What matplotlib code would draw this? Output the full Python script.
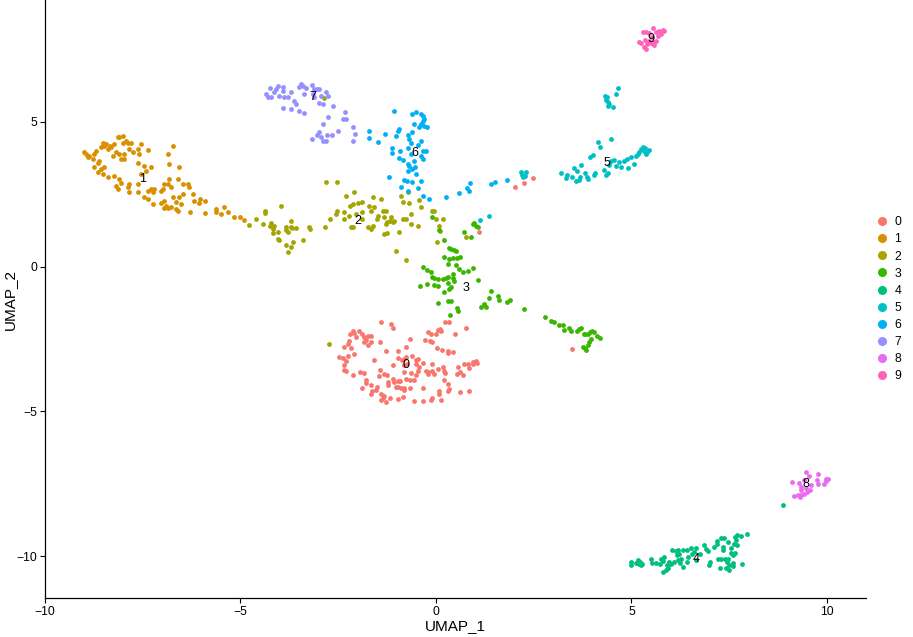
import numpy as np
import matplotlib
matplotlib.use("Agg")
import matplotlib.pyplot as plt
from matplotlib.lines import Line2D

# cluster ids and ggplot hue colours
clusters = ["0", "1", "2", "3", "4", "5", "6", "7", "8", "9"]
colors = ["#F8766D", "#D89000", "#A3A500", "#39B600", "#00BF7D",
          "#00BFC4", "#00B0F6", "#9590FF", "#E76BF3", "#FF62BC"]

# (UMAP_1, UMAP_2) per cell
cluster0 = [
    (-1.41, -1.90), (-1.15, -1.98), (-1.11, -2.11), (-2.13, -2.21), (-2.09, -2.30), (-2.19, -2.34),
    (-1.96, -2.23), (-1.88, -2.34), (-1.83, -2.44), (-1.79, -2.55), (-1.75, -2.38), (-1.65, -2.41),
    (-1.83, -2.61), (-1.75, -2.72), (-1.66, -2.61), (-2.22, -2.57), (-2.26, -2.67), (-2.36, -2.76),
    (-2.17, -2.80), (-1.43, -2.61), (-2.05, -2.44), (-2.47, -3.13), (-2.39, -3.15), (-2.26, -3.10),
    (-2.09, -3.01), (-2.30, -3.26), (-2.35, -3.41), (-2.36, -3.56), (-2.30, -3.59), (-2.11, -3.76),
    (-1.94, -3.64), (-1.83, -3.68), (-1.79, -3.93), (-1.79, -4.02), (-1.88, -4.18), (-1.65, -4.10),
    (-1.64, -4.28), (-1.66, -4.39), (-1.54, -4.25), (-1.51, -4.14), (-1.41, -4.39), (-1.36, -4.53),
    (-1.32, -4.48), (-1.17, -4.53), (-1.41, -4.62), (-1.28, -4.68), (-0.96, -4.56), (-0.85, -4.51),
    (-1.59, -3.24), (-1.42, -3.56), (-1.45, -3.79), (-1.32, -3.70), (-1.24, -3.76), (-1.22, -3.99),
    (-1.11, -3.87), (-1.22, -4.10), (-1.07, -3.99), (-1.02, -4.14), (-0.98, -3.95), (-0.91, -3.95),
    (-0.96, -4.14), (-0.90, -4.18), (-0.83, -4.25), (-0.81, -4.18), (-0.66, -4.18), (-0.77, -3.87),
    (-0.66, -3.93), (-0.55, -3.93), (-0.51, -3.76), (-0.47, -3.59), (-0.64, -3.68), (-0.81, -3.64),
    (-1.11, -3.41), (-0.98, -3.15), (-0.88, -3.24), (-0.81, -3.18), (-0.74, -3.38), (-0.60, -3.07),
    (-0.51, -3.36), (-0.45, -3.18), (-0.43, -3.47), (-0.34, -3.33), (-0.26, -3.61), (-0.21, -3.64),
    (-0.21, -3.70), (-0.11, -3.61), (-0.09, -3.36), (-0.04, -3.70), (0.04, -3.53), (0.17, -3.45),
    (0.21, -3.59), (0.23, -3.68), (0.20, -3.91), (0.30, -4.05), (0.34, -4.22), (0.30, -4.28),
    (0.08, -4.28), (0.08, -4.39), (-0.09, -4.53), (-0.13, -4.60), (-0.34, -4.18), (-0.34, -4.64),
    (-0.57, -4.65), (0.13, -4.60), (0.62, -4.33), (0.85, -4.30), (0.55, -3.70), (0.62, -3.64),
    (0.68, -3.76), (0.57, -3.47), (0.72, -3.36), (0.81, -3.36), (0.94, -3.38), (0.96, -3.30),
    (1.02, -3.26), (1.05, -3.33), (0.85, -3.49), (-1.28, -2.92), (-0.96, -2.92), (-0.77, -2.78),
    (-0.66, -2.49), (-0.77, -3.13), (-0.21, -2.26), (-0.13, -2.32), (0.00, -2.34), (0.04, -2.18),
    (0.11, -2.15), (0.13, -2.23), (-0.09, -2.61), (-0.15, -2.57), (-0.28, -2.55), (0.02, -2.80),
    (0.15, -2.87), (0.30, -2.90), (0.32, -2.99), (0.43, -2.95), (0.49, -2.32), (0.77, -2.11),
    (0.23, -1.90), (0.34, -1.93), (-0.51, -3.24), (-0.81, -3.41),
    (1.11, 1.18), (2.02, 2.74), (2.24, 2.87), (2.47, 3.06), (3.47, -2.84),
]
cluster1 = [
    (-8.99, 3.94), (-8.95, 3.88), (-8.91, 3.77), (-8.87, 3.82), (-8.78, 3.71), (-8.74, 3.88),
    (-8.69, 4.00), (-8.65, 3.59), (-8.61, 3.65), (-8.57, 4.11), (-8.52, 4.28), (-8.48, 4.17),
    (-8.44, 4.23), (-8.40, 4.05), (-8.35, 4.17), (-8.31, 4.11), (-8.27, 3.82), (-8.23, 4.23),
    (-8.18, 3.94), (-8.14, 4.46), (-8.10, 4.46), (-8.01, 4.51), (-8.01, 4.28), (-7.93, 4.34),
    (-7.88, 4.28), (-7.80, 4.28), (-7.84, 4.05), (-7.76, 3.94), (-8.06, 3.71), (-7.97, 3.71),
    (-8.10, 3.88), (-7.97, 3.88), (-7.54, 4.23), (-7.63, 4.05), (-7.59, 3.88), (-7.36, 4.02),
    (-7.63, 3.59), (-7.46, 3.48), (-7.29, 3.44), (-7.42, 3.31), (-7.54, 3.19), (-8.74, 3.42),
    (-8.65, 3.25), (-8.57, 3.36), (-8.48, 3.42), (-8.52, 3.19), (-8.40, 3.08), (-8.23, 3.14),
    (-8.10, 3.02), (-8.06, 2.90), (-8.18, 2.79), (-8.14, 2.67), (-7.88, 2.73), (-7.84, 2.85),
    (-7.84, 2.56), (-7.63, 2.85), (-7.63, 2.56), (-7.46, 2.39), (-7.37, 2.33), (-7.37, 2.62),
    (-7.29, 2.67), (-7.25, 2.56), (-7.20, 2.67), (-7.25, 2.16), (-7.03, 2.62), (-6.99, 2.67),
    (-6.95, 2.85), (-6.86, 2.85), (-6.82, 3.02), (-6.78, 2.73), (-6.73, 2.39), (-6.65, 2.22),
    (-6.56, 2.39), (-6.61, 3.02), (-6.56, 3.42), (-6.82, 3.54), (-6.86, 3.88), (-6.73, 4.17),
    (-6.48, 2.85), (-6.35, 2.85), (-6.31, 2.73), (-6.48, 2.50), (-6.52, 2.16), (-6.65, 1.98),
    (-6.61, 1.93), (-7.03, 2.21), (-6.95, 2.27), (-6.90, 2.10), (-6.95, 2.02), (-6.86, 2.02),
    (-6.78, 2.04), (-6.22, 2.52), (-6.18, 2.27), (-6.05, 2.21), (-6.03, 2.33), (-5.91, 2.25),
    (-6.28, 1.90), (-5.92, 1.85), (-5.63, 1.99), (-5.63, 1.87), (-5.51, 1.81), (-5.43, 2.04),
    (-5.33, 1.87), (-5.16, 1.70), (-5.01, 1.70), (-4.92, 1.61),
]
cluster2 = [
    (-4.77, 1.44), (-4.60, 1.64), (-4.43, 1.47), (-4.37, 1.93), (-4.37, 1.85), (-4.22, 1.52),
    (-4.24, 1.41), (-4.13, 1.41), (-4.18, 1.30), (-4.05, 1.20), (-4.16, 1.16), (-3.96, 2.10),
    (-4.05, 0.95), (-4.01, 0.92), (-3.84, 1.38), (-3.71, 1.58), (-3.71, 1.35), (-3.58, 1.33),
    (-3.69, 1.32), (-3.84, 1.26), (-3.79, 1.18), (-3.66, 0.84), (-3.71, 0.66), (-3.84, 0.76),
    (-3.79, 0.49), (-3.41, 0.92), (-3.26, 1.35), (-3.23, 1.30),
    (-2.81, 2.91), (-2.52, 2.93), (-2.30, 2.45), (-2.09, 2.56), (-2.53, 1.93), (-2.56, 1.82),
    (-2.34, 1.87), (-2.19, 2.10), (-2.13, 2.16), (-2.00, 2.18), (-1.88, 2.22), (-1.62, 2.39),
    (-1.41, 2.33), (-1.71, 2.10), (-1.58, 2.05), (-1.66, 1.93), (-1.88, 1.87), (-2.05, 1.82),
    (-2.22, 1.76), (-2.34, 1.64), (-2.70, 1.64), (-2.84, 1.36), (-2.17, 1.36), (-2.11, 1.38),
    (-1.88, 1.64), (-1.75, 1.38), (-1.66, 1.30), (-1.62, 1.41), (-1.49, 1.76), (-1.51, 1.64),
    (-1.36, 1.93), (-1.28, 1.93), (-1.32, 1.70), (-1.24, 1.53), (-1.28, 1.47), (-1.15, 1.70),
    (-1.17, 1.58), (-1.07, 1.58), (-1.11, 1.53), (-1.32, 1.13), (-1.25, 1.15), (-0.94, 1.18),
    (-0.90, 2.45), (-0.85, 2.22), (-0.72, 2.56), (-0.68, 2.18), (-0.64, 1.82), (-0.64, 1.47),
    (-0.85, 1.64), (-0.77, 1.64), (-0.47, 1.41), (-0.43, 2.28), (-0.38, 2.05), (-0.09, 1.91),
    (-0.04, 1.91), (0.00, 1.64), (0.17, 1.64), (0.08, 1.41), (0.11, 1.24), (0.03, 0.84),
    (-1.02, 0.53), (-0.77, 0.21), (0.77, 1.03), (-2.86, 5.82), (-2.74, -2.69),
]
cluster3 = [
    (-0.09, 1.70), (0.08, 1.26), (0.21, 0.92), (0.34, 0.64), (0.38, 0.61), (0.47, 0.58),
    (0.51, 0.55), (0.21, 0.32), (0.34, 0.26), (0.43, 0.30), (0.55, 0.30), (0.62, 0.32),
    (0.30, 0.09), (0.51, 0.07), (0.60, -0.08), (0.68, -0.20), (0.81, -0.14), (0.96, -0.05),
    (-0.34, 0.00), (-0.23, -0.12), (-0.13, -0.20), (-0.09, -0.35), (-0.04, -0.39), (0.04, -0.43),
    (0.17, -0.43), (0.26, -0.39), (0.30, -0.37), (0.43, -0.25), (0.43, -0.39), (0.45, -0.51),
    (0.30, -0.58), (0.38, -0.69), (0.34, -0.77), (0.21, -0.89), (-0.40, -0.66), (-0.23, -0.60),
    (-0.04, -0.62), (0.04, -0.66), (1.07, -0.46), (0.04, -1.27), (0.30, -1.20), (0.38, -1.20),
    (0.55, -1.43), (0.57, -1.52), (0.37, -1.66), (1.15, -1.40), (1.28, -1.40), (1.41, -0.83),
    (1.36, -1.08), (1.58, -1.03), (1.22, -1.29), (1.62, -1.17), (0.71, 1.18), (0.89, 1.01),
    (0.96, 1.47), (1.02, 1.41), (1.07, 1.36), (0.98, 1.49),
    (1.83, -1.23), (1.89, -1.15), (2.24, -1.46), (2.79, -1.75), (2.94, -1.89), (3.01, -1.92),
    (3.15, -2.00), (3.24, -2.03), (3.28, -2.18), (3.41, -2.11), (3.45, -2.23), (3.61, -2.21),
    (3.67, -2.15), (3.71, -2.11), (3.79, -2.34), (3.88, -2.32), (3.95, -2.26), (3.98, -2.21),
    (4.05, -2.26), (3.96, -2.49), (3.92, -2.61), (3.88, -2.72), (3.81, -2.80), (3.84, -2.87),
    (3.75, -2.78), (4.13, -2.38), (4.20, -2.46), (3.81, -2.34),
]
cluster4 = [
    (4.99, -10.20), (5.00, -10.31), (5.11, -10.23), (5.16, -10.14), (5.23, -10.20), (5.24, -10.31),
    (5.20, -10.25), (5.28, -10.25), (5.50, -10.11), (5.52, -10.23), (5.63, -10.23), (5.75, -10.08),
    (5.74, -10.25), (5.82, -10.16), (5.84, -10.02), (5.91, -10.31), (5.97, -10.20), (6.01, -10.25),
    (5.94, -10.39), (5.88, -10.46), (5.80, -10.54), (6.09, -10.20), (6.18, -10.14), (6.25, -10.23),
    (6.31, -10.37), (6.28, -10.08), (6.16, -9.97), (6.22, -9.93), (6.14, -9.82), (6.03, -9.77),
    (6.18, -9.79), (6.31, -9.77), (6.42, -9.77), (6.52, -9.70), (6.65, -9.70), (6.61, -9.85),
    (6.54, -9.93), (6.42, -10.20), (6.45, -10.02), (6.65, -10.14), (6.76, -9.91), (6.85, -9.62),
    (6.91, -9.74), (6.95, -9.82), (6.99, -10.31), (7.02, -10.20), (7.10, -9.68), (7.19, -9.47),
    (7.20, -9.59), (7.29, -9.36), (7.36, -9.36), (7.33, -9.68), (7.33, -9.79), (7.46, -9.51),
    (7.54, -9.70), (7.59, -9.97), (7.56, -9.89), (7.63, -9.56), (7.65, -9.33), (7.71, -9.28),
    (7.80, -9.31), (7.67, -9.45), (7.71, -9.62), (7.95, -9.24), (7.29, -10.08), (7.39, -10.11),
    (7.44, -10.20), (7.27, -10.39), (7.42, -10.39), (7.50, -10.31), (7.59, -10.23), (7.61, -10.34),
    (7.50, -10.48), (7.82, -10.28), (7.65, -9.89), (7.46, -10.11), (7.22, -10.11), (8.87, -8.22),
]
cluster5 = [
    (3.21, 3.22), (3.35, 3.17), (3.32, 3.06), (3.47, 3.08), (3.52, 3.40), (3.62, 3.29),
    (3.71, 3.49), (3.69, 3.08), (3.58, 2.94), (3.67, 2.99), (3.81, 3.22), (3.86, 3.10),
    (3.90, 3.02), (4.05, 3.15), (4.07, 3.24), (4.30, 3.33), (4.36, 3.15), (4.39, 3.22),
    (4.43, 3.52), (4.49, 3.66), (4.56, 3.68), (4.60, 3.48), (4.69, 3.60), (4.73, 3.42),
    (4.80, 3.66), (4.88, 3.71), (5.00, 3.77), (4.90, 3.40), (5.06, 3.54), (5.12, 3.83),
    (5.16, 3.88), (5.20, 3.94), (5.24, 4.06), (5.29, 4.11), (5.33, 4.00), (5.37, 3.88),
    (5.41, 3.94), (5.46, 4.02), (5.35, 4.09), (3.95, 3.77), (4.01, 3.86), (4.14, 4.29),
    (4.20, 4.14), (4.49, 4.40), (4.37, 5.84), (4.35, 5.75), (4.39, 5.67), (4.43, 5.61),
    (4.52, 5.52), (4.39, 5.55), (4.60, 5.95), (4.66, 6.16), (4.33, 5.90),
    (2.17, 3.25), (2.30, 3.25), (2.22, 3.10), (2.28, 3.14), (2.19, 3.17), (1.13, 1.59), (1.36, 1.76),
]
cluster6 = [
    (-1.08, 5.38), (-1.70, 4.69), (-1.70, 4.44), (-1.47, 4.30), (-1.30, 4.58), (-1.02, 4.52),
    (-0.98, 4.69), (-0.94, 4.75), (-1.13, 4.09), (-1.13, 3.91), (-0.91, 3.98), (-0.94, 3.75),
    (-0.85, 3.68), (-0.72, 4.09), (-0.72, 4.55), (-0.68, 4.40), (-0.64, 4.25), (-0.60, 4.63),
    (-0.55, 4.92), (-0.60, 5.27), (-0.51, 5.32), (-0.38, 5.27), (-0.34, 5.21), (-0.34, 5.03),
    (-0.38, 4.92), (-0.30, 5.09), (-0.30, 4.86), (-0.23, 4.80), (-0.43, 4.83), (-0.38, 4.35),
    (-0.47, 4.21), (-0.34, 3.98), (-0.26, 4.00), (-0.38, 3.83), (-0.32, 3.71), (-0.64, 3.89),
    (-0.55, 3.66), (-0.68, 3.48), (-0.72, 3.31), (-0.62, 3.37), (-0.54, 3.42), (-0.51, 3.20),
    (-0.72, 3.54), (-1.19, 3.10), (-0.81, 2.99), (-0.75, 2.97), (-0.90, 2.76), (-0.72, 2.60),
    (-0.60, 2.91), (-0.38, 2.97), (-0.47, 2.71), (-0.32, 2.45), (-0.17, 2.33), (0.26, 2.41),
    (0.60, 2.53), (0.79, 2.71), (0.85, 2.62), (0.86, 2.89), (1.41, 2.85), (1.51, 2.91), (1.83, 2.99),
]
cluster7 = [
    (-4.35, 5.95), (-4.30, 5.86), (-4.22, 5.86), (-4.24, 6.18), (-4.13, 6.01), (-4.09, 6.13),
    (-4.05, 6.24), (-4.01, 5.90), (-3.92, 6.07), (-3.90, 6.21), (-3.88, 5.84), (-3.79, 5.84),
    (-3.71, 6.01), (-3.64, 5.72), (-3.58, 5.61), (-3.71, 5.44), (-3.90, 5.47), (-3.50, 5.36),
    (-3.37, 5.29), (-3.50, 6.21), (-3.45, 6.30), (-3.41, 6.24), (-3.32, 6.18), (-3.37, 5.95),
    (-3.18, 6.28), (-3.11, 6.13), (-3.04, 6.13), (-2.98, 6.13), (-3.15, 5.95), (-3.11, 5.84),
    (-2.98, 5.63), (-2.90, 5.61), (-2.94, 5.90), (-2.81, 6.01), (-2.75, 5.90), (-2.64, 5.55),
    (-2.77, 5.17), (-2.90, 4.92), (-2.98, 4.63), (-3.03, 4.55), (-2.94, 4.48), (-2.90, 4.32),
    (-2.81, 4.35), (-2.79, 4.55), (-2.67, 4.55), (-2.51, 4.69), (-2.39, 5.09), (-2.30, 5.09),
    (-2.33, 5.32), (-2.11, 4.83), (-2.06, 4.58), (-2.12, 4.35), (-3.17, 4.40),
]
cluster8 = [
    (9.10, -7.44), (9.29, -7.47), (9.35, -7.61), (9.42, -7.38), (9.46, -7.09), (9.55, -7.24),
    (9.59, -7.55), (9.78, -7.15), (9.74, -7.38), (9.76, -7.52), (9.97, -7.32), (10.03, -7.32),
    (9.98, -7.40), (9.93, -7.49), (9.50, -7.78), (9.42, -7.84), (9.33, -7.90), (9.25, -7.90),
    (9.16, -7.93), (9.57, -7.70), (9.33, -7.70), (9.46, -7.63), (9.32, -7.95),
]
cluster9 = [
    (5.29, 8.08), (5.37, 8.08), (5.46, 8.05), (5.54, 8.23), (5.63, 8.08), (5.71, 8.14),
    (5.80, 8.16), (5.84, 8.14), (5.75, 8.02), (5.67, 7.97), (5.58, 7.74), (5.50, 7.70),
    (5.41, 7.68), (5.33, 7.59), (5.37, 7.51), (5.24, 7.70), (5.20, 7.74), (5.58, 7.66),
    (5.52, 7.91), (5.35, 7.82), (5.46, 7.79), (5.63, 7.79),
]
cells = [cluster0, cluster1, cluster2, cluster3, cluster4,
         cluster5, cluster6, cluster7, cluster8, cluster9]

plt.rcParams['font.family'] = ['Liberation Sans', 'DejaVu Sans']

fig = plt.figure(figsize=(9.13, 6.37), dpi=100)
ax = fig.add_axes([0.0493, 0.0612, 0.8992, 0.9388])

for lab, col, pts in zip(clusters, colors, cells):
    arr = np.array(pts)
    ax.scatter(arr[:, 0], arr[:, 1], s=12, c=col, linewidths=0, zorder=2)

# cluster labels at the median of each cluster
for lab, pts in zip(clusters, cells):
    arr = np.array(pts)
    ax.text(np.median(arr[:, 0]), np.median(arr[:, 1]), lab,
            ha='center', va='center', fontsize=9, color='black', zorder=3)

ax.set_xlim(-10.0, 11.0)
ax.set_ylim(-11.44, 9.2)
ax.set_xticks([-10, -5, 0, 5, 10])
ax.set_yticks([-10, -5, 0, 5])
ax.spines['top'].set_visible(False)
ax.spines['right'].set_visible(False)
for s in ['left', 'bottom']:
    ax.spines[s].set_linewidth(0.9)
ax.tick_params(length=3.5, width=0.8, labelsize=8.8, pad=2, colors='black')
ax.set_xlabel('UMAP_1', fontsize=11, labelpad=1)
ax.set_ylabel('UMAP_2', fontsize=11, labelpad=0)

handles = [Line2D([0], [0], marker='o', linestyle='', markersize=6.5,
                  markerfacecolor=c, markeredgewidth=0) for c in colors]
fig.legend(handles, clusters, loc='center left', bbox_to_anchor=(0.961, 0.53),
           frameon=False, fontsize=8.8, handlelength=0.8, handletextpad=0.6,
           labelspacing=0.42, borderaxespad=0, borderpad=0)

fig.savefig('out.png', dpi=100)
